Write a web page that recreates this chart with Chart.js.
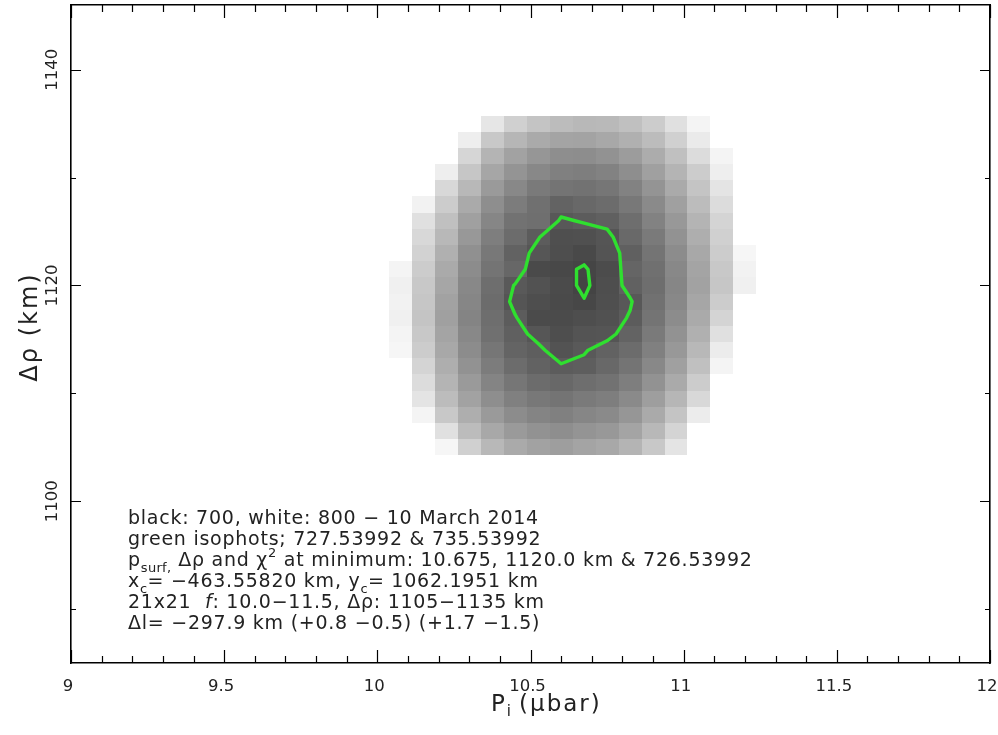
<!DOCTYPE html>
<html>
<head>
<meta charset="utf-8">
<script src="https://cdn.jsdelivr.net/npm/chart.js@4.4.1/dist/chart.umd.min.js"></script>
<style>
  html, body { margin: 0; padding: 0; background: #fff; }
  #wrap { position: relative; width: 998px; height: 735px; overflow: hidden; }
  #c { position: absolute; left: 0; top: 0; }
  #notes {
    position: absolute; left: 128px; top: 507px;
    font-family: 'DejaVu Sans', sans-serif; font-size: 19px;
    letter-spacing: 0.75px; color: #222; white-space: pre;
  }
  #notes div { height: 21px; line-height: 21px; }
  #notes .sb { font-size: 13px; position: relative; top: 6px; letter-spacing: 0.3px; }
  #notes .sp { font-size: 13px; position: relative; top: -9px; }
</style>
</head>
<body>
<div id="wrap">
  <canvas id="c" width="998" height="735"></canvas>
  <div id="notes"></div>
</div>
<script>
// Surface pressure grid (µbar) and Δρ grid (km); rows of the χ² map run from 1135 down to 1105 km
const pValues = [10.000, 10.075, 10.150, 10.225, 10.300, 10.375, 10.450, 10.525, 10.600, 10.675, 10.750,
                 10.825, 10.900, 10.975, 11.050, 11.125, 11.200, 11.275, 11.350, 11.425, 11.500];
const rhoValues = [1135, 1133.5, 1132, 1130.5, 1129, 1127.5, 1126, 1124.5, 1123, 1121.5, 1120,
                   1118.5, 1117, 1115.5, 1114, 1112.5, 1111, 1109.5, 1108, 1106.5, 1105];

// χ² per grid cell, one row per Δρ value above, one column per pressure value
const chi2Rows = [
  [842, 831, 821, 812, 803.5, 790.2, 781.6, 776.9, 773.7, 772.2, 772.6, 775.3, 780.0, 787.8, 795.7, 804.8, 816, 829, 843, 858, 874],
  [836, 824, 814, 804.6, 793.3, 778.4, 771.4, 766.7, 764.3, 763.8, 765.9, 769.0, 773.7, 781.6, 791.8, 801.9, 812, 825, 839, 854, 870],
  [830, 818, 808, 800.9, 783.9, 770.6, 763.5, 758.8, 755.7, 755.4, 757.3, 761.2, 767.5, 775.3, 786.3, 795.7, 808, 821, 835, 850, 866],
  [825, 813, 803.2, 793.3, 777.6, 765.1, 758.0, 753.3, 750.2, 749.4, 751.0, 755.7, 762.7, 770.6, 780.0, 793.3, 804.5, 817, 831, 846, 862],
  [821, 809, 800.6, 784.7, 772.2, 760.4, 753.3, 747.8, 745.5, 744.7, 746.3, 751.0, 758.0, 766.7, 776.9, 789.4, 802.1, 814, 828, 843, 859],
  [817, 805.5, 794.9, 780.0, 766.7, 755.7, 748.6, 743.9, 739.0, 740.8, 742.4, 747.1, 754.1, 762.7, 773.7, 786.3, 800.8, 812, 826, 841, 857],
  [814, 802.8, 787.8, 775.3, 762.7, 752.5, 744.7, 743.58, 734.5, 736.25, 737.75, 743.1, 751.0, 759.6, 770.6, 783.1, 801.5, 811, 824, 839, 855],
  [812, 801.2, 784.7, 772.2, 759.6, 749.4, 742.4, 735.94, 731.0, 731.5, 733.5, 741.35, 747.8, 757.3, 768.2, 781.6, 800.3, 810, 823, 838, 854],
  [810, 800.4, 782.4, 769.0, 756.5, 747.1, 738.56, 733.61, 730.5, 728.73, 732.9, 737.7, 745.5, 754.9, 765.9, 780.0, 796.5, 808, 821, 836, 852],
  [808, 795.7, 780.0, 766.7, 754.9, 745.5, 740.5, 729.2, 728.43, 727.1, 729.7, 739.43, 743.9, 753.3, 764.3, 778.4, 794.9, 806, 819, 834, 850],
  [807, 794.1, 778.4, 765.1, 753.3, 743.0, 734.99, 732.2, 729.57, 726.53992, 730.54, 738.23, 743.1, 752.5, 763.5, 777.6, 794.1, 805, 818, 833, 849],
  [808, 794.9, 777.6, 763.5, 752.5, 742.5, 733.3, 730.6, 729.0, 727.81, 731.0, 734.69, 744.13, 753.3, 765.1, 780.0, 801.8, 808, 821, 836, 852],
  [809, 794.1, 776.9, 762.7, 751.8, 743.1, 736.07, 729.5, 729.3, 730.6, 731.6, 736.24, 745.5, 754.9, 766.7, 783.1, 803, 810, 823, 838, 854],
  [811, 795.7, 778.4, 764.3, 753.3, 743.9, 737.73, 733.67, 730.6, 732.9, 733.5, 738.73, 747.8, 757.3, 769.0, 787.8, 805, 812, 825, 840, 856],
  [813, 796.5, 780.0, 765.9, 754.9, 746.3, 739.2, 736.84, 732.5, 734.96, 738.36, 742.4, 750.2, 759.6, 772.2, 792.5, 807, 815, 828, 843, 859],
  [816, 801.5, 783.1, 768.2, 757.3, 748.6, 742.4, 738.4, 736.12, 737.03, 740.8, 745.5, 753.3, 762.7, 775.3, 795.7, 810, 818, 831, 846, 862],
  [819, 803.5, 786.3, 770.6, 760.4, 751.8, 746.3, 742.4, 740.8, 743.1, 744.7, 749.4, 757.3, 766.7, 780.0, 801.2, 813, 821, 834, 849, 865],
  [823, 806.5, 789.4, 773.7, 763.5, 755.7, 750.2, 747.1, 745.5, 747.8, 749.4, 754.1, 762.0, 771.4, 784.7, 804, 816, 825, 838, 853, 869],
  [827, 810, 795.7, 778.4, 768.2, 760.4, 754.9, 751.8, 750.2, 752.5, 754.1, 758.8, 766.7, 776.9, 792.5, 807, 819, 829, 842, 857, 873],
  [832, 814, 801.4, 787.8, 773.7, 765.9, 760.4, 757.3, 755.7, 758.0, 759.6, 764.3, 772.2, 783.1, 801.6, 811, 823, 833, 846, 861, 877],
  [837, 819, 805, 796.5, 781.6, 772.2, 766.7, 763.5, 762.0, 764.3, 765.9, 770.6, 778.4, 789.4, 805.5, 815, 827, 837, 850, 865, 881]
];

// grey scale limits and the two isophot levels traced in green
const grayBlack = 700;
const grayWhite = 800;
const isophotLevels = [727.53992, 735.53992];

// axis ranges and ticks
const xRange = [9, 12];
const yRange = [1085, 1146];
const xMajorTicks = [9, 9.5, 10, 10.5, 11, 11.5, 12];
const xTickLabels = ['9', '9.5', '10', '10.5', '11', '11.5', '12'];
const xMinorTicks = [9.1, 9.2, 9.3, 9.4, 9.6, 9.7, 9.8, 9.9, 10.1, 10.2, 10.3, 10.4, 10.6, 10.7, 10.8, 10.9,
                     11.1, 11.2, 11.3, 11.4, 11.6, 11.7, 11.8, 11.9];
const yMajorTicks = [1100, 1120, 1140];
const yTickLabels = ['1100', '1120', '1140'];
const yMinorTicks = [1090, 1110, 1130];

const FONT = '"DejaVu Sans", sans-serif';
const GREEN = '#2fe02f';

// ---- marching squares over the χ² grid ----
function traceContours(level) {
  const nr = rhoValues.length, nc = pValues.length;
  const val = (k, i) => chi2Rows[k][i];
  const edgePoint = (id) => {
    const [t, ks, is] = id.split(':');
    const k = +ks, i = +is;
    if (t === 'h') {
      const a = val(k, i), b = val(k, i + 1), f = (level - a) / (b - a);
      return { x: pValues[i] + f * (pValues[i + 1] - pValues[i]), y: rhoValues[k] };
    }
    const a = val(k, i), b = val(k + 1, i), f = (level - a) / (b - a);
    return { x: pValues[i], y: rhoValues[k] + f * (rhoValues[k + 1] - rhoValues[k]) };
  };
  const links = new Map();
  const link = (a, b) => {
    if (!links.has(a)) links.set(a, []);
    if (!links.has(b)) links.set(b, []);
    links.get(a).push(b); links.get(b).push(a);
  };
  for (let k = 0; k < nr - 1; k++) {
    for (let i = 0; i < nc - 1; i++) {
      const tl = val(k, i), tr = val(k, i + 1), br = val(k + 1, i + 1), bl = val(k + 1, i);
      const edges = [
        ['h:' + k + ':' + i, tl, tr],
        ['v:' + k + ':' + (i + 1), tr, br],
        ['h:' + (k + 1) + ':' + i, bl, br],
        ['v:' + k + ':' + i, tl, bl]
      ];
      const hit = edges.filter(e => (e[1] < level) !== (e[2] < level)).map(e => e[0]);
      if (hit.length === 2) link(hit[0], hit[1]);
      else if (hit.length === 4) {
        const centre = (tl + tr + br + bl) / 4;
        if ((centre < level) === (tl < level)) { link(hit[0], hit[1]); link(hit[2], hit[3]); }
        else { link(hit[0], hit[3]); link(hit[1], hit[2]); }
      }
    }
  }
  const seen = new Set();
  const paths = [];
  const starts = [...links.keys()].sort((a, b) => links.get(a).length - links.get(b).length);
  for (const s of starts) {
    if (seen.has(s)) continue;
    const ids = [s]; seen.add(s);
    let cur = s;
    for (;;) {
      const next = links.get(cur).find(n => !seen.has(n));
      if (!next) break;
      seen.add(next); ids.push(next); cur = next;
    }
    if (links.get(cur).includes(s) && ids.length > 2) ids.push(s);
    paths.push(ids.map(edgePoint));
  }
  return paths;
}

const contourSets = [];
isophotLevels.forEach(level => {
  traceContours(level).forEach(path => {
    contourSets.push({
      label: 'isophot ' + level,
      data: path,
      showLine: true,
      borderColor: GREEN,
      backgroundColor: GREEN,
      borderWidth: 3.4,
      pointRadius: 0,
      tension: 0,
      borderJoinStyle: 'round',
      borderCapStyle: 'round',
      fill: false
    });
  });
});

// ---- grey cells of the χ² map ----
const cellMap = {
  id: 'cellMap',
  beforeDatasetsDraw(chart) {
    const { ctx, chartArea: a, scales: { x, y } } = chart;
    const hx = Math.abs(pValues[1] - pValues[0]) / 2;
    const hy = Math.abs(rhoValues[1] - rhoValues[0]) / 2;
    ctx.save();
    ctx.beginPath();
    ctx.rect(a.left, a.top, a.right - a.left, a.bottom - a.top);
    ctx.clip();
    chi2Rows.forEach((row, k) => {
      row.forEach((v, i) => {
        const g = Math.max(0, Math.min(1, (v - grayBlack) / (grayWhite - grayBlack)));
        if (g >= 1) return;
        const x0 = Math.round(x.getPixelForValue(pValues[i] - hx));
        const x1 = Math.round(x.getPixelForValue(pValues[i] + hx));
        const y0 = Math.round(y.getPixelForValue(rhoValues[k] + hy));
        const y1 = Math.round(y.getPixelForValue(rhoValues[k] - hy));
        const c = Math.round(g * 255);
        ctx.fillStyle = 'rgb(' + c + ',' + c + ',' + c + ')';
        ctx.fillRect(x0, y0, x1 - x0, y1 - y0);
      });
    });
    ctx.restore();
  }
};

// ---- inward tick marks, tick labels and axis titles ----
const frameText = {
  id: 'frameText',
  afterDraw(chart) {
    const { ctx, chartArea: a, scales: { x, y } } = chart;
    ctx.save();
    ctx.strokeStyle = '#000';
    ctx.lineWidth = 1.2;
    ctx.beginPath();
    x.ticks.forEach(t => {
      const major = xMajorTicks.some(m => Math.abs(m - t.value) < 1e-6);
      const len = major ? 13 : 7;
      const px = Math.round(x.getPixelForValue(t.value)) + 0.5;
      ctx.moveTo(px, a.bottom); ctx.lineTo(px, a.bottom - len);
      ctx.moveTo(px, a.top); ctx.lineTo(px, a.top + len);
    });
    y.ticks.forEach(t => {
      const major = yMajorTicks.some(m => Math.abs(m - t.value) < 1e-6);
      const len = major ? 10 : 5;
      const py = Math.round(y.getPixelForValue(t.value)) + 0.5;
      ctx.moveTo(a.left, py); ctx.lineTo(a.left + len, py);
      ctx.moveTo(a.right, py); ctx.lineTo(a.right - len, py);
    });
    ctx.stroke();

    ctx.fillStyle = '#222';
    ctx.font = '16.5px ' + FONT;
    ctx.textAlign = 'center';
    ctx.textBaseline = 'alphabetic';
    xMajorTicks.forEach((v, n) => {
      ctx.fillText(xTickLabels[n], x.getPixelForValue(v) - 3, a.bottom + 28);
    });
    yMajorTicks.forEach((v, n) => {
      ctx.save();
      ctx.translate(a.left - 14, y.getPixelForValue(v));
      ctx.rotate(-Math.PI / 2);
      ctx.fillText(yTickLabels[n], 0, 0);
      ctx.restore();
    });

    // x title: P with subscript i
    ctx.textAlign = 'left';
    ctx.letterSpacing = '2px';
    ctx.font = '23px ' + FONT;
    let tx = 491;
    const base = a.bottom + 48;
    ctx.fillText('P', tx, base);
    tx += ctx.measureText('P').width;
    ctx.font = '15px ' + FONT;
    ctx.fillText('i', tx, base + 5);
    tx += ctx.measureText('i').width + 6;
    ctx.font = '23px ' + FONT;
    ctx.fillText('(μbar)', tx, base);

    // y title
    ctx.save();
    ctx.textAlign = 'center';
    ctx.letterSpacing = '2px';
    ctx.font = '24px ' + FONT;
    ctx.translate(37, (a.top + a.bottom) / 2 - 7);
    ctx.rotate(-Math.PI / 2);
    ctx.fillText('Δρ (km)', 0, 0);
    ctx.restore();
    ctx.restore();
  }
};

const axisBorder = { display: true, color: '#000', width: 1.6 };
const hiddenGrid = { display: true, drawOnChartArea: false, drawTicks: false };
const xTicksAll = xMajorTicks.concat(xMinorTicks).sort((p, q) => p - q);
const yTicksAll = yMajorTicks.concat(yMinorTicks).sort((p, q) => p - q);

new Chart(document.getElementById('c'), {
  type: 'scatter',
  data: { datasets: contourSets },
  options: {
    responsive: false,
    animation: false,
    devicePixelRatio: 1,
    layout: { padding: 0 },
    plugins: { legend: { display: false }, tooltip: { enabled: false } },
    scales: {
      x: {
        type: 'linear', position: 'bottom', min: xRange[0], max: xRange[1],
        afterBuildTicks: s => { s.ticks = xTicksAll.map(v => ({ value: v })); },
        afterFit: s => { s.height = 72; },
        ticks: { display: false }, grid: hiddenGrid, border: axisBorder
      },
      xTop: {
        type: 'linear', position: 'top', min: xRange[0], max: xRange[1],
        afterBuildTicks: s => { s.ticks = xTicksAll.map(v => ({ value: v })); },
        afterFit: s => { s.height = 5; },
        ticks: { display: false }, grid: hiddenGrid, border: axisBorder
      },
      y: {
        type: 'linear', position: 'left', min: yRange[0], max: yRange[1],
        afterBuildTicks: s => { s.ticks = yTicksAll.map(v => ({ value: v })); },
        afterFit: s => { s.width = 71; },
        ticks: { display: false }, grid: hiddenGrid, border: axisBorder
      },
      yRight: {
        type: 'linear', position: 'right', min: yRange[0], max: yRange[1],
        afterBuildTicks: s => { s.ticks = yTicksAll.map(v => ({ value: v })); },
        afterFit: s => { s.width = 8; },
        ticks: { display: false }, grid: hiddenGrid, border: axisBorder
      }
    }
  },
  plugins: [cellMap, frameText]
});

// ---- annotation block ----
let kMin = 0, iMin = 0;
chi2Rows.forEach((row, k) => row.forEach((v, i) => { if (v < chi2Rows[kMin][iMin]) { kMin = k; iMin = i; } }));
const chiMin = chi2Rows[kMin][iMin];
const noteLines = [
  'black: ' + grayBlack + ', white: ' + grayWhite + ' − 10 March 2014',
  'green isophots; ' + isophotLevels[0].toFixed(5) + ' &amp; ' + isophotLevels[1].toFixed(5),
  'p<span class="sb">surf,</span> Δρ and χ<span class="sp">2</span> at minimum: ' + pValues[iMin].toFixed(3) + ', ' +
    rhoValues[kMin].toFixed(1) + ' km &amp; ' + chiMin.toFixed(5),
  'x<span class="sb">c</span>= −463.55820 km, y<span class="sb">c</span>= 1062.1951 km',
  pValues.length + 'x' + rhoValues.length + '  <i>f</i>: ' + pValues[0].toFixed(1) + '−' + pValues[pValues.length - 1].toFixed(1) +
    ', Δρ: ' + rhoValues[rhoValues.length - 1] + '−' + rhoValues[0] + ' km',
  'Δl= −297.9 km (+0.8 −0.5) (+1.7 −1.5)'
];
document.getElementById('notes').innerHTML = noteLines.map(s => '<div>' + s + '</div>').join('');
</script>
</body>
</html>
